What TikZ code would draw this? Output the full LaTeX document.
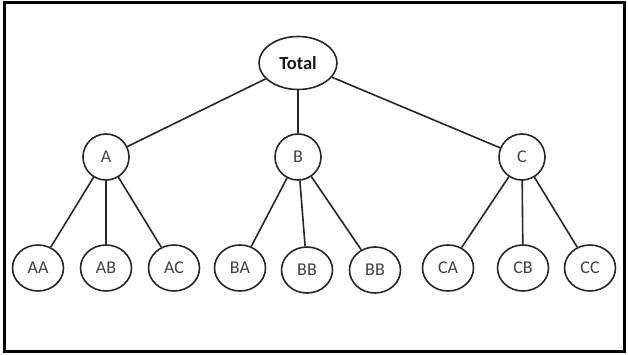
\documentclass[tikz,border=0pt]{standalone}
\usepackage{fontspec}
\setmainfont{Carlito}
\usetikzlibrary{shapes.geometric}
\begin{document}
\begin{tikzpicture}[x=1pt,y=-1pt,
  every node/.style={ellipse,draw=black!85,line width=1.6pt,inner sep=0pt,text=black!75,font=\fontsize{18}{20}\selectfont},
  leaf/.style={minimum width=51pt,minimum height=46pt},
  mid/.style={circle,minimum size=46pt},
  root/.style={minimum width=78pt,minimum height=53pt,text=black!90,font=\fontsize{18.5}{20}\selectfont\bfseries},
  edge/.style={draw=black!85,line width=1.6pt}]
\useasboundingbox (0,0) rectangle (628,355);
\draw[line width=3pt] (4.5,2.5) rectangle (624.5,351.5);
\node[root] (T) at (298,63) {Total};
\node[mid] (A) at (106,157) {A};
\node[mid] (B) at (298,157) {B};
\node[mid] (C) at (522,157) {C};
\node[leaf] (AA) at (38,268) {AA};
\node[leaf] (AB) at (106,268) {AB};
\node[leaf] (AC) at (174,268) {AC};
\node[leaf] (BA) at (240,268) {BA};
\node[leaf] (BB1) at (307,270) {BB};
\node[leaf] (BB2) at (375,270) {BB};
\node[leaf] (CA) at (448,268) {CA};
\node[leaf] (CB) at (523,268) {CB};
\node[leaf] (CC) at (590,268) {CC};
\foreach \a/\b in {T/A,T/B,T/C,A/AA,A/AB,A/AC,B/BA,B/BB1,B/BB2,C/CA,C/CB,C/CC}
  \draw[edge] (\a) -- (\b);
\end{tikzpicture}
\end{document}
